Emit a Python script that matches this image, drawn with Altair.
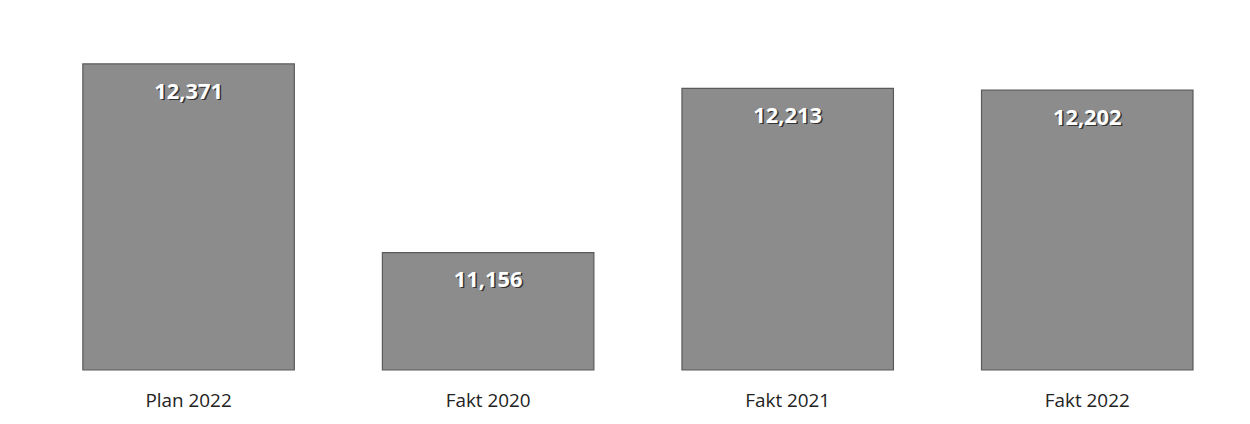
import altair as alt
import pandas as pd

categories = ["Plan 2022", "Fakt 2020", "Fakt 2021", "Fakt 2022"]
values = [12371, 11156, 12213, 12202]
labels = ["12,371", "11,156", "12,213", "12,202"]

df = pd.DataFrame({"cat": categories, "val": values, "lab": labels})

x = alt.X("cat:N", sort=categories, title=None,
          scale=alt.Scale(paddingInner=0.294, paddingOuter=0.147),
          axis=alt.Axis(labelAngle=0, domain=False, ticks=False, labelPadding=22,
                        labelFontSize=19, labelColor="#222222", labelFont="Open Sans"))
y = alt.Y("val:Q", title=None, scale=alt.Scale(domain=[10400, 12710], zero=False, nice=False),
          axis=None)

base = alt.Chart(df)
bars = base.mark_bar(color="#8c8c8c", stroke="#5a5a5a", strokeWidth=1.2).encode(
    x=x, y=y, y2=alt.datum(10400))
shadow = base.mark_text(font="Open Sans", fontSize=22, fontWeight="bold", color="#333333",
                        baseline="middle", dy=29, dx=1.5).encode(x=x, y=y, text="lab:N")
txt = base.mark_text(font="Open Sans", fontSize=22, fontWeight="bold", color="white",
                     baseline="middle", dy=28).encode(x=x, y=y, text="lab:N")

chart = alt.layer(bars, shadow, txt).properties(
    width=1206, height=361,
    autosize=alt.AutoSizeParams(type="none"),
    padding={"left": 31, "top": 2, "right": 5, "bottom": 45},
    background="white",
).configure_view(stroke=None)

chart.save("out.html", embed_options={"renderer": "svg", "actions": False})
